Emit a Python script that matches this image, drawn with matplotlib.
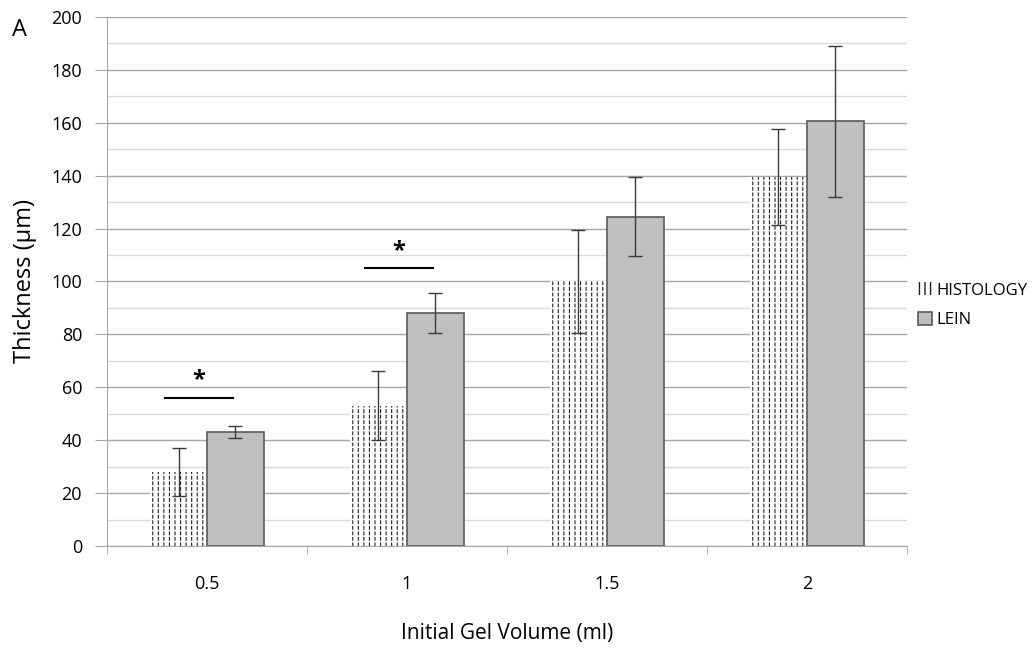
import numpy as np
import matplotlib.pyplot as plt
import matplotlib as mpl

plt.rcParams['font.family'] = ['Open Sans', 'DejaVu Sans']

# data
volumes = ['0.5', '1', '1.5', '2']
histology = [28, 53, 100, 139.5]
histology_err = [9, 13, 19.5, 18]
lein = [43, 88, 124.5, 160.5]
lein_err = [2.3, 7.5, 15, 28.5]
# significance markers (category index, bar height)
sig_idx = [0, 1]
sig_y = [56, 105]

fig = plt.figure(figsize=(10.34, 6.48), dpi=100)
ax = fig.add_axes([0.1035, 0.1574, 0.7735, 0.8164])

x = np.arange(len(volumes))
w = 0.285

# dashed vertical texture: vertical hatch, then broken up by white horizontal hatch
mpl.rcParams['hatch.linewidth'] = 0.8
ax.bar(x - w / 2, histology, w, color='white', edgecolor='#202020', linewidth=0,
       hatch='|||', zorder=2, label='HISTOLOGY')
mpl.rcParams['hatch.linewidth'] = 1.2
ax.bar(x - w / 2, histology, w, color='none', edgecolor='white', linewidth=0,
       hatch='---', zorder=2)
mpl.rcParams['hatch.linewidth'] = 1.0
ax.bar(x + w / 2, lein, w, color='#bfbfbf', edgecolor='#5a5a5a', linewidth=1.2,
       zorder=2, label='LEIN')
ax.errorbar(x - w / 2, histology, yerr=histology_err, fmt='none', ecolor='#3a3a3a',
            elinewidth=1, capsize=5, capthick=1, zorder=3)
ax.errorbar(x + w / 2, lein, yerr=lein_err, fmt='none', ecolor='#3a3a3a',
            elinewidth=1, capsize=5, capthick=1, zorder=3)

for i, y in zip(sig_idx, sig_y):
    ax.plot([i - 0.21, i + 0.13], [y, y], color='black', lw=1.5, zorder=3)
    ax.text(i - 0.04, y + 2, '*', ha='center', va='bottom', fontsize=17,
            fontweight='bold')

ax.set_xlim(-0.5, 3.5)
ax.set_ylim(0, 200)
ax.set_yticks(np.arange(0, 201, 20))
ax.set_yticks(np.arange(0, 201, 10), minor=True)
ax.grid(axis='y', which='major', color='#a6a6a6', lw=1, zorder=0)
ax.grid(axis='y', which='minor', color='#d9d9d9', lw=1, zorder=0)
ax.set_axisbelow(True)

ax.set_xticks(x)
ax.set_xticklabels(volumes)
ax.set_xticks(np.arange(-0.5, 3.6, 1), minor=True)
ax.tick_params(axis='x', which='major', length=0, pad=21, labelsize=13)
ax.tick_params(axis='x', which='minor', length=6, color='#a6a6a6', direction='out')
ax.tick_params(axis='y', which='major', length=9, color='#a6a6a6', labelsize=13, pad=9)
ax.tick_params(axis='y', which='minor', length=0)

for s in ['top', 'right']:
    ax.spines[s].set_visible(False)
ax.spines['left'].set_color('#a6a6a6')
ax.spines['bottom'].set_color('#a6a6a6')

ax.set_ylabel('Thickness (\u00b5m)', fontsize=17, labelpad=10)
ax.set_xlabel('Initial Gel Volume (ml)', fontsize=15)
ax.xaxis.set_label_coords(0.5, -0.146)

fig.text(0.012, 0.945, 'A', fontsize=17)

h, l = ax.get_legend_handles_labels()
ax.legend(h, l, loc='center left', bbox_to_anchor=(1.0, 0.455), frameon=False,
          fontsize=12, handlelength=0.8, handleheight=0.8, handletextpad=0.3,
          labelspacing=0.8, borderaxespad=0.3)

fig.savefig('out.png', dpi=100)
